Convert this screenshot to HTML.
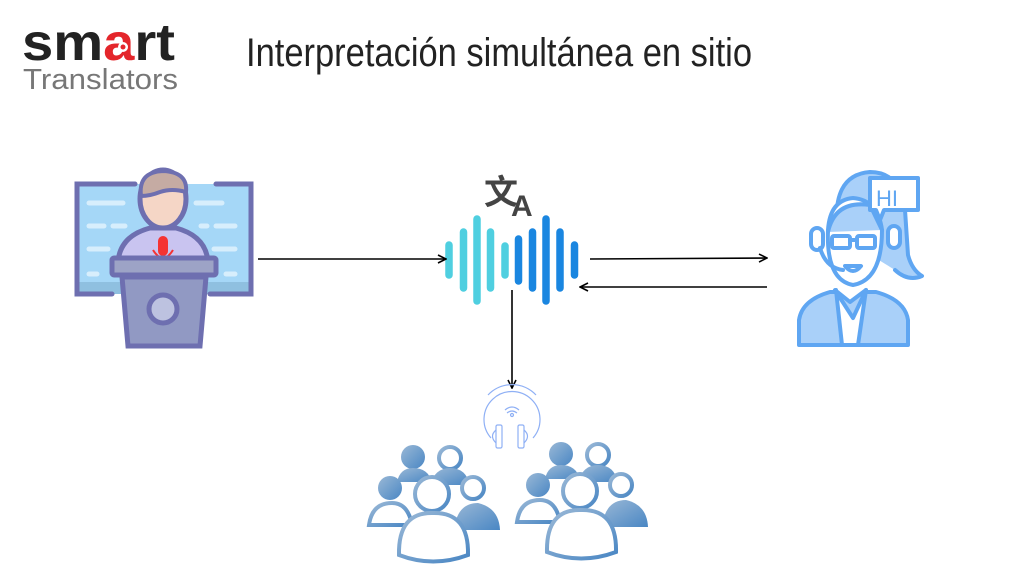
<!DOCTYPE html>
<html><head><meta charset="utf-8"><style>
html,body{margin:0;padding:0;background:#fff;}
svg{display:block;}
</style></head><body>
<svg width="1024" height="576" viewBox="0 0 1024 576" xmlns="http://www.w3.org/2000/svg">
<defs>
<marker id="ah" markerWidth="10" markerHeight="10" refX="9" refY="5" orient="auto" markerUnits="userSpaceOnUse">
<path d="M1,1 L9,5 L1,9" fill="none" stroke="#000" stroke-width="1.6"/>
</marker>
<linearGradient id="pg" x1="0" y1="0" x2="1" y2="1">
<stop offset="0" stop-color="#9ab8d6"/><stop offset="1" stop-color="#4a87c4"/>
</linearGradient>
</defs>
<!-- logo -->
<text x="22" y="60" font-family="Liberation Sans, sans-serif" font-weight="bold" font-size="52" fill="#222" textLength="153" lengthAdjust="spacingAndGlyphs">sm<tspan fill="#e4262b">a</tspan>rt</text>
<circle cx="123" cy="47" r="5" fill="#fff"/><circle cx="123" cy="47" r="2.5" fill="#e4262b"/>
<text x="23" y="89" font-family="Liberation Sans, sans-serif" font-size="29" fill="#777" textLength="155" lengthAdjust="spacingAndGlyphs">Translators</text>
<!-- title -->
<text x="246" y="66" font-family="Liberation Sans, sans-serif" font-size="40" fill="#222" textLength="506" lengthAdjust="spacingAndGlyphs">Interpretación simultánea en sitio</text>

<!-- speaker -->
<rect x="77" y="184" width="174" height="110" fill="#a5d7f7"/>
<rect x="77" y="282" width="174" height="12" fill="#8fc0e0"/>
<path d="M135,184 H77 V294 H112 M216,184 H251 V294 H210" fill="none" stroke="#6e6fb0" stroke-width="5" stroke-linecap="round"/>
<g stroke="#d7eefc" stroke-width="5" stroke-linecap="round">
<line x1="89" y1="203" x2="123" y2="203"/><line x1="196" y1="203" x2="222" y2="203"/>
<line x1="89" y1="226" x2="104" y2="226"/><line x1="113" y1="226" x2="125" y2="226"/><line x1="201" y1="226" x2="207" y2="226"/><line x1="216" y1="226" x2="235" y2="226"/>
<line x1="89" y1="249" x2="108" y2="249"/><line x1="214" y1="249" x2="235" y2="249"/>
<line x1="89" y1="274" x2="97" y2="274"/><line x1="226" y1="274" x2="235" y2="274"/>
</g>
<path d="M118,262 Q120,236 150,228 L176,228 Q206,236 208,262 Z" fill="#c9c4f0" stroke="#6e6fb0" stroke-width="5"/>
<ellipse cx="163" cy="199" rx="23" ry="29" fill="#f5d6c6" stroke="#6e6fb0" stroke-width="5"/>
<path d="M141,196 Q138,172 163,171 Q188,172 186,192 Q172,188 160,192 Q150,196 141,196Z" fill="#c5aba3" stroke="#6e6fb0" stroke-width="4"/>
<rect x="158" y="236" width="10" height="20" rx="5" fill="#f53333"/>
<path d="M153,250 Q163,266 173,250 M163,258 V265 M157,265 H169" fill="none" stroke="#f53333" stroke-width="2"/>
<rect x="112" y="258" width="104" height="17" rx="2" fill="#9da3c6" stroke="#6e6fb0" stroke-width="5"/>
<path d="M122,277 L206,277 L200,346 L128,346 Z" fill="#9199c3" stroke="#6e6fb0" stroke-width="5"/>
<circle cx="163" cy="309" r="14" fill="#bdc2e0" stroke="#6e6fb0" stroke-width="5"/>

<!-- translate glyph -->
<text x="484" y="204" font-family="Noto Sans CJK SC, sans-serif" font-weight="bold" font-size="34" fill="#444">文</text>
<text x="511" y="216" font-family="Liberation Sans, sans-serif" font-weight="bold" font-size="30" fill="#444">A</text>
<!-- wave -->
<g stroke-width="7.5" stroke-linecap="round">
<line x1="449" y1="245" x2="449" y2="275" stroke="#4fcfe0"/>
<line x1="463.5" y1="232" x2="463.5" y2="288" stroke="#4fcfe0"/>
<line x1="477" y1="219" x2="477" y2="301" stroke="#4fcfe0"/>
<line x1="490.5" y1="232" x2="490.5" y2="288" stroke="#4fcfe0"/>
<line x1="505" y1="246" x2="505" y2="275" stroke="#4fcfe0"/>
<line x1="518.5" y1="239" x2="518.5" y2="281" stroke="#1a86e0"/>
<line x1="532.5" y1="232" x2="532.5" y2="288" stroke="#1a86e0"/>
<line x1="546" y1="219" x2="546" y2="301" stroke="#1a86e0"/>
<line x1="560" y1="232" x2="560" y2="288" stroke="#1a86e0"/>
<line x1="574.5" y1="245" x2="574.5" y2="275" stroke="#1a86e0"/>
</g>

<!-- arrows -->
<g stroke="#000" stroke-width="1.6" fill="none">
<line x1="258" y1="259" x2="446" y2="259" marker-end="url(#ah)"/>
<line x1="590" y1="259" x2="767" y2="258" marker-end="url(#ah)"/>
<line x1="767" y1="287" x2="580" y2="287" marker-end="url(#ah)"/>
<line x1="512" y1="290" x2="512" y2="388" marker-end="url(#ah)"/>
</g>

<!-- headphones -->
<g fill="none" stroke="#8fb0f5" stroke-width="1.2">
<path d="M491,438 A28,28 0 1 1 533,438"/>
<path d="M488,395 A33,33 0 0 1 536,395"/>
<rect x="496" y="425" width="6" height="23" rx="1.5"/><rect x="518" y="425" width="6" height="23" rx="1.5"/>
<path d="M496,430 Q489,436 496,443"/><path d="M524,430 Q531,436 524,443"/>
<path d="M505,410 Q512,404 519,410 M507,413 Q512,409 517,413"/><circle cx="512" cy="415" r="1.5"/>
</g>

<!-- audience groups -->
<g id="grp">
<circle cx="413" cy="457" r="12" fill="url(#pg)"/>
<path d="M397,482 Q400,468 413,468 Q428,468 432,482 Z" fill="url(#pg)"/>
<circle cx="450" cy="458" r="11" fill="#fff" stroke="url(#pg)" stroke-width="4"/>
<path d="M430,485 Q435,468 450,468 Q466,468 470,485 Z" fill="url(#pg)"/>
<circle cx="390" cy="488" r="12" fill="url(#pg)"/>
<path d="M369,525 Q372,503 392,503 Q408,503 412,525 Z" fill="#fff" stroke="url(#pg)" stroke-width="4"/>
<circle cx="473" cy="488" r="11" fill="#fff" stroke="url(#pg)" stroke-width="4"/>
<path d="M454,530 Q457,503 478,503 Q499,508 500,530 Z" fill="url(#pg)"/>
<circle cx="432" cy="494" r="17" fill="#fff" stroke="url(#pg)" stroke-width="4"/>
<path d="M399,555 Q398,512 433,513 Q469,512 468,555 Q433,568 399,555 Z" fill="#fff" stroke="url(#pg)" stroke-width="4"/>
</g>
<use href="#grp" x="148" y="-3"/>

<!-- interpreter -->
<g stroke="#5fa6f2" stroke-width="4" stroke-linejoin="round" stroke-linecap="round">
<path d="M838,235 Q830,175 870,172 Q900,172 905,210 L908,255 Q912,270 922,276 Q908,282 895,270" fill="#a9d0f9"/>
<path d="M799,345 L799,320 Q802,300 830,292 L876,292 Q905,300 908,320 L908,345 Z" fill="#a9d0f9"/>
<path d="M836,290 L842,345 L858,345 L866,290" fill="#fff"/>
<path d="M835,290 L850,302 L866,290 L853,318 Z" fill="#a9d0f9"/>
<path d="M828,230 Q826,280 853,285 Q882,280 882,230 Q878,200 853,198 Q830,200 828,230 Z" fill="#fff"/>
<path d="M828,232 Q835,200 870,205 L882,230" fill="#a9d0f9"/>
<rect x="811" y="228" width="12" height="22" rx="6" fill="#fff"/>
<rect x="888" y="226" width="12" height="22" rx="6" fill="#fff"/>
<path d="M820,248 Q826,268 843,270" fill="none"/>
<rect x="832" y="236" width="18" height="12" rx="2" fill="none"/>
<rect x="857" y="236" width="18" height="12" rx="2" fill="none"/>
<path d="M850,240 H857" fill="none"/>
<path d="M845,266 Q853,276 861,266 Z" fill="#fff"/>
<path d="M870,178 H918 V210 H884 L880,220 L876,210 H870 Z" fill="#fff"/>
</g>
<text x="876" y="206" font-family="Liberation Sans, sans-serif" font-size="22" fill="#5fa6f2">HI</text>
</svg>
</body></html>
